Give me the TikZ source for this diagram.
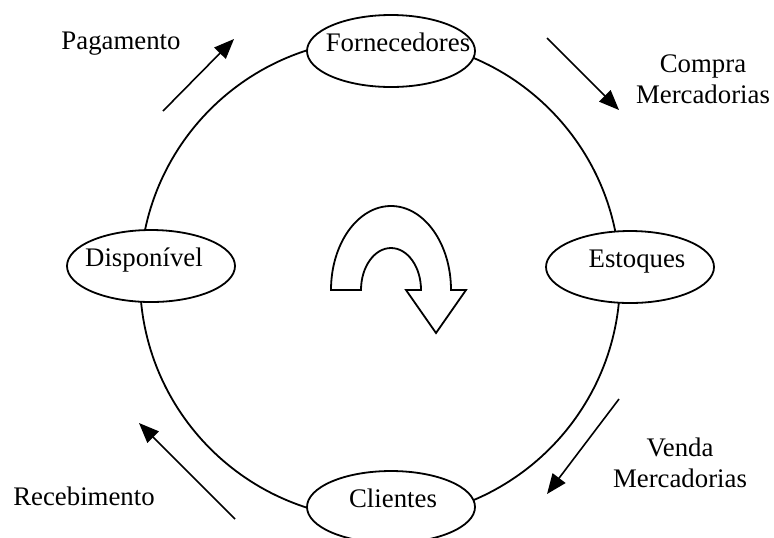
\documentclass[tikz,border=0pt]{standalone}
\usepackage{fontspec}
\setmainfont{Liberation Serif}
\usepackage{tikz}
\usetikzlibrary{shapes.geometric,arrows.meta,positioning,calc}

\begin{document}
\begin{tikzpicture}[
    x=0.5pt, y=-0.5pt,
    >={Triangle[length=10pt,width=8pt]},
    every node/.style={font=\fontsize{13.4}{15.4}\selectfont},
    estado/.style={ellipse, draw, fill=white, line width=0.9pt, minimum width=84pt, minimum height=36pt, inner sep=0pt, text height=8pt, text depth=8pt},
    rotulo/.style={inner sep=0pt, align=center, anchor=base},
    seta/.style={->, line width=0.8pt},
    linha/.style={line width=0.9pt}
]
    \useasboundingbox (0,0) rectangle (774,537);

    % ciclo
    \coordinate (centro) at (380,279);
    \draw[linha] (centro) circle[radius=240];

    \node (forn) [estado] at (391,51) {\makebox[0pt]{\kern7pt Fornecedores}};
    \node (esto) [estado] at (630,267) {\makebox[0pt]{\kern7pt Estoques}};
    \node (clie) [estado] at (391,507) {\makebox[0pt]{\kern2pt Clientes}};
    \node (disp) [estado] at (151,266) {\makebox[0pt]{Dispon\'{\i}vel\kern7pt}};

    % sentido
    \draw[linha] (331,290) arc[start angle=180, end angle=360, x radius=60, y radius=84]
        -- (466,290) -- (436,333) -- (406,290) -- (421,290)
        arc[start angle=0, end angle=-180, x radius=30, y radius=42] -- cycle;

    % fluxos
    \coordinate (pag1) at (163,111);  \coordinate (pag2) at (234,39);
    \coordinate (com1) at (547,38);   \coordinate (com2) at (619,110);
    \coordinate (ven1) at (619,399);  \coordinate (ven2) at (547,494);
    \coordinate (rec1) at (235,519);  \coordinate (rec2) at (139,423);

    \draw[seta] (pag1) -- (pag2);
    \draw[seta] (com1) -- (com2);
    \draw[seta] (ven1) -- (ven2);
    \draw[seta] (rec1) -- (rec2);

    \node (pag) [rotulo] at (121,49) {Pagamento};
    \node (com) [rotulo] at (703,103) {Compra\\Mercadorias};
    \node (ven) [rotulo] at (680,487) {Venda\\Mercadorias};
    \node (rec) [rotulo] at (84,505) {Recebimento};

\end{tikzpicture}
\end{document}
